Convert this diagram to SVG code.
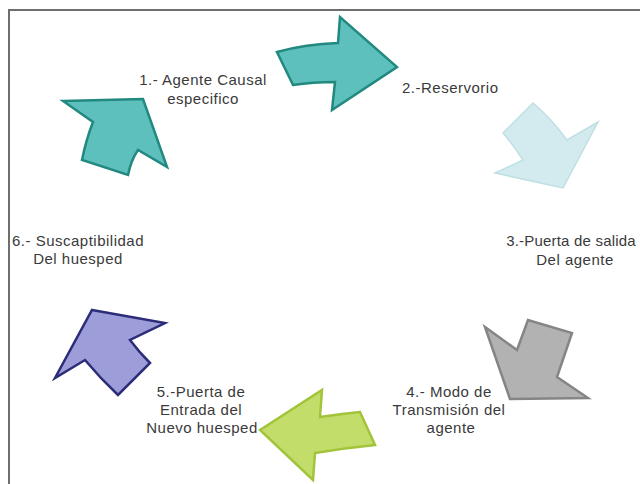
<svg xmlns="http://www.w3.org/2000/svg" width="640" height="484" viewBox="0 0 640 484">
<style>
.lbl{font-family:"Liberation Sans",Arial,sans-serif;font-size:15px;fill:#3a3a3a;letter-spacing:0.5px}
.c{text-anchor:middle}
.teal{fill:#5ec0bd;stroke:#21897f;stroke-width:2.5;stroke-linejoin:miter}
.ltblue{fill:#d3ebee;stroke:#bfdfe3;stroke-width:1.5}
.gray{fill:#b2b2b2;stroke:#858585;stroke-width:2.5}
.lime{fill:#c3dd6a;stroke:#a2c43a;stroke-width:2.5}
.blue{fill:#9d9ed9;stroke:#2c2c78;stroke-width:2.5}
</style>
<rect width="640" height="484" fill="#ffffff"/>
<g id="frame" fill="none" stroke="#6e6e6e" stroke-width="2">
<line x1="8" y1="10" x2="640" y2="10"/>
<line x1="9" y1="10" x2="9" y2="484"/>
</g>
<g id="connectors"></g>
<g id="n1">
<path class="teal" d="M63,101 L143,99 L167,167 L138,150 Q131,160 128,175 L82,160 Q86,140 93,122 Z"/>
<text class="lbl c" x="203" y="85">1.- Agente Causal</text>
<text class="lbl c" x="203" y="104">especifico</text>
</g>
<g id="n2">
<path class="teal" d="M277,52 Q306,44 338,43 L340,17 L397,67 L332,110 L335,82 Q313,82 293,85 Z"/>
<text class="lbl" x="402" y="93">2.-Reservorio</text>
</g>
<g id="n3">
<path class="ltblue" d="M533,103 Q552,119 567,140 L598,122 L563,188 L495,173 L523,160 Q514,146 503,133 Z"/>
<text class="lbl c" x="571" y="246" style="letter-spacing:0.2px">3.-Puerta de salida</text>
<text class="lbl c" x="575" y="265">Del agente</text>
</g>
<g id="n4">
<path class="gray" d="M485,327 L517,350 L528,320 L572,333 L557,377 L588,398 L510,399 Z"/>
<text class="lbl c" x="449" y="397">4.- Modo de</text>
<text class="lbl c" x="449" y="415">Transmisión del</text>
<text class="lbl c" x="451" y="433">agente</text>
</g>
<g id="n5">
<path class="lime" d="M260,430 L322,390 L320,417 Q340,414 360,412 L375,445 Q345,448 315,453 L313,480 Z"/>
<text class="lbl c" x="201" y="397">5.-Puerta de</text>
<text class="lbl c" x="201" y="415">Entrada del</text>
<text class="lbl c" x="202" y="433">Nuevo huesped</text>
</g>
<g id="n6">
<path class="blue" d="M92,310 L165,323 L130,340 Q139,352 150,363 L118,395 Q100,378 85,360 L55,378 Z"/>
<text class="lbl c" x="78" y="246">6.- Suscaptibilidad</text>
<text class="lbl c" x="78" y="264">Del huesped</text>
</g>
</svg>
